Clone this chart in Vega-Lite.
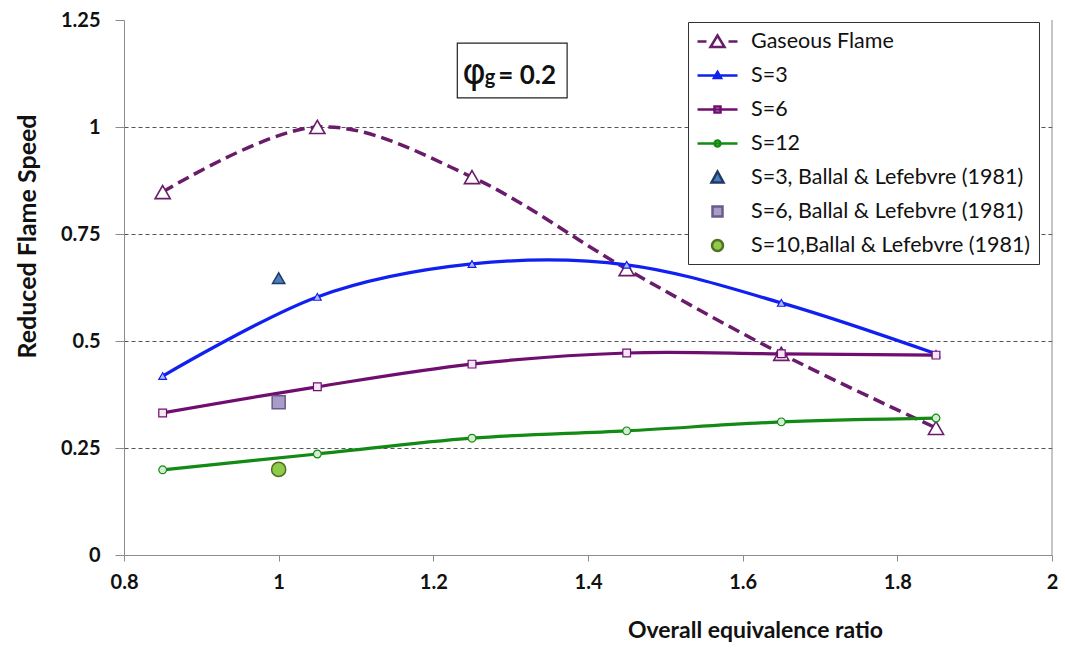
{
  "$schema": "https://vega.github.io/schema/vega-lite/v6.json",
  "width": 928,
  "height": 535,
  "autosize": "none",
  "padding": {"left": 124, "top": 20, "right": 13, "bottom": 95},
  "background": "white",
  "config": {"view": {"stroke": null}, "font": "Lato"},
  "datasets": {
    "curves": [
      {"series": "Gaseous Flame", "phi": 0.85, "speed": 0.848},
      {"series": "Gaseous Flame", "phi": 1.05, "speed": 1.0},
      {"series": "Gaseous Flame", "phi": 1.25, "speed": 0.883},
      {"series": "Gaseous Flame", "phi": 1.45, "speed": 0.668},
      {"series": "Gaseous Flame", "phi": 1.65, "speed": 0.47},
      {"series": "Gaseous Flame", "phi": 1.85, "speed": 0.297},
      {"series": "S=3", "phi": 0.85, "speed": 0.418},
      {"series": "S=3", "phi": 1.05, "speed": 0.603},
      {"series": "S=3", "phi": 1.25, "speed": 0.68},
      {"series": "S=3", "phi": 1.45, "speed": 0.678},
      {"series": "S=3", "phi": 1.65, "speed": 0.589},
      {"series": "S=3", "phi": 1.85, "speed": 0.47},
      {"series": "S=6", "phi": 0.85, "speed": 0.332},
      {"series": "S=6", "phi": 1.05, "speed": 0.393},
      {"series": "S=6", "phi": 1.25, "speed": 0.446},
      {"series": "S=6", "phi": 1.45, "speed": 0.472},
      {"series": "S=6", "phi": 1.65, "speed": 0.47},
      {"series": "S=6", "phi": 1.85, "speed": 0.467},
      {"series": "S=12", "phi": 0.85, "speed": 0.199},
      {"series": "S=12", "phi": 1.05, "speed": 0.236},
      {"series": "S=12", "phi": 1.25, "speed": 0.273},
      {"series": "S=12", "phi": 1.45, "speed": 0.29},
      {"series": "S=12", "phi": 1.65, "speed": 0.311},
      {"series": "S=12", "phi": 1.85, "speed": 0.32}
    ],
    "ballal": [
      {"series": "S=3, Ballal & Lefebvre (1981)", "phi": 1.0, "speed": 0.647},
      {"series": "S=6, Ballal & Lefebvre (1981)", "phi": 1.0, "speed": 0.357},
      {"series": "S=10,Ballal & Lefebvre (1981)", "phi": 1.0, "speed": 0.2}
    ],
    "legendrows": [
      {"entry": "Gaseous Flame"},
      {"entry": "S=3"},
      {"entry": "S=6"},
      {"entry": "S=12"},
      {"entry": "S=3, Ballal & Lefebvre (1981)"},
      {"entry": "S=6, Ballal & Lefebvre (1981)"},
      {"entry": "S=10,Ballal & Lefebvre (1981)"}
    ],
    "one": [{"k": 1}]
  },
  "layer": [
    {
      "data": {"name": "curves"},
      "transform": [{"filter": "datum.series == 'Gaseous Flame'"}],
      "mark": {"type": "line", "interpolate": "cardinal", "strokeWidth": 3.5, "strokeDash": [12, 6]},
      "encoding": {
        "x": {
          "field": "phi", "type": "quantitative",
          "scale": {"domain": [0.8, 2], "nice": false, "zero": false},
          "axis": {
            "title": "Overall equivalence ratio",
            "values": [0.8, 1, 1.2, 1.4, 1.6, 1.8, 2],
            "format": ".3~g", "grid": false,
            "domainColor": "#8C8C8C", "tickColor": "#8C8C8C", "tickSize": 6,
            "labelFont": "Lato", "labelFontSize": 20, "labelFontWeight": "bold", "labelColor": "#111",
            "labelPadding": 11, "labelFlush": false,
            "titleFont": "Lato", "titleFontSize": 23, "titleFontWeight": "bold", "titleColor": "#111",
            "titleX": 631, "titleY": 75, "titleBaseline": "middle"
          }
        },
        "y": {
          "field": "speed", "type": "quantitative",
          "scale": {"domain": [0, 1.25], "nice": false, "zero": true},
          "axis": {
            "title": "Reduced Flame Speed",
            "values": [0, 0.25, 0.5, 0.75, 1, 1.25],
            "format": ".3~g",
            "grid": true, "gridColor": "#555", "gridDash": [4, 3], "gridWidth": 1,
            "gridOpacity": {"condition": {"test": "datum.value == 0 || datum.value == 1.25", "value": 0}, "value": 1},
            "domainColor": "#8C8C8C", "tickColor": "#8C8C8C", "tickSize": 9,
            "labelFont": "Lato", "labelFontSize": 20, "labelFontWeight": "bold", "labelColor": "#111",
            "labelPadding": 15,
            "titleFont": "Lato", "titleFontSize": 25, "titleFontWeight": "bold", "titleColor": "#111",
            "titleX": -97, "titleY": 216, "titleBaseline": "middle", "titleAngle": -90
          }
        },
        "color": {
          "field": "series", "type": "nominal",
          "scale": {
            "domain": ["S=3", "S=6", "S=12", "Gaseous Flame", "S=3, Ballal & Lefebvre (1981)", "S=6, Ballal & Lefebvre (1981)", "S=10,Ballal & Lefebvre (1981)"],
            "range": ["#1020F0", "#700E70", "#138A13", "#6A1B6A", "#4A7EBB", "#A99CC9", "#8FCB4B"]
          },
          "legend": null
        }
      }
    },
    {
      "data": {"name": "curves"},
      "transform": [{"filter": "datum.series != 'Gaseous Flame'"}],
      "mark": {"type": "line", "interpolate": "cardinal", "strokeWidth": 3.2},
      "encoding": {
        "x": {"field": "phi", "type": "quantitative"},
        "y": {"field": "speed", "type": "quantitative"},
        "color": {"field": "series", "type": "nominal", "legend": null}
      }
    },
    {
      "data": {"name": "curves"},
      "transform": [{"filter": "datum.series == 'Gaseous Flame'"}],
      "mark": {"type": "point", "shape": "triangle-up", "filled": false, "fill": "white", "size": 230, "strokeWidth": 1.6, "opacity": 1},
      "encoding": {
        "x": {"field": "phi", "type": "quantitative"},
        "y": {"field": "speed", "type": "quantitative"},
        "color": {"field": "series", "type": "nominal", "legend": null}
      }
    },
    {
      "data": {"name": "curves"},
      "transform": [{"filter": "datum.series == 'S=3'"}],
      "mark": {"type": "point", "shape": "triangle-up", "filled": false, "fill": "#B8B8FF", "size": 60, "strokeWidth": 1.2, "opacity": 1},
      "encoding": {
        "x": {"field": "phi", "type": "quantitative"},
        "y": {"field": "speed", "type": "quantitative"},
        "color": {"field": "series", "type": "nominal", "legend": null}
      }
    },
    {
      "data": {"name": "curves"},
      "transform": [{"filter": "datum.series == 'S=6'"}],
      "mark": {"type": "point", "shape": "square", "filled": false, "fill": "#F4E6F4", "size": 60, "strokeWidth": 1.2, "opacity": 1},
      "encoding": {
        "x": {"field": "phi", "type": "quantitative"},
        "y": {"field": "speed", "type": "quantitative"},
        "color": {"field": "series", "type": "nominal", "legend": null}
      }
    },
    {
      "data": {"name": "curves"},
      "transform": [{"filter": "datum.series == 'S=12'"}],
      "mark": {"type": "point", "shape": "circle", "filled": false, "fill": "#D4EED4", "size": 60, "strokeWidth": 1.2, "opacity": 1},
      "encoding": {
        "x": {"field": "phi", "type": "quantitative"},
        "y": {"field": "speed", "type": "quantitative"},
        "color": {"field": "series", "type": "nominal", "legend": null}
      }
    },
    {
      "data": {"name": "ballal"},
      "transform": [{"filter": "indexof(datum.series, 'S=3') == 0"}],
      "mark": {"type": "point", "shape": "triangle-up", "filled": true, "stroke": "#1F3A66", "strokeWidth": 1.5, "size": 150, "opacity": 1},
      "encoding": {
        "x": {"field": "phi", "type": "quantitative"},
        "y": {"field": "speed", "type": "quantitative"},
        "color": {"field": "series", "type": "nominal", "legend": null}
      }
    },
    {
      "data": {"name": "ballal"},
      "transform": [{"filter": "indexof(datum.series, 'S=6') == 0"}],
      "mark": {"type": "point", "shape": "square", "filled": true, "stroke": "#6B5B8B", "strokeWidth": 1.5, "size": 170, "opacity": 1},
      "encoding": {
        "x": {"field": "phi", "type": "quantitative"},
        "y": {"field": "speed", "type": "quantitative"},
        "color": {"field": "series", "type": "nominal", "legend": null}
      }
    },
    {
      "data": {"name": "ballal"},
      "transform": [{"filter": "indexof(datum.series, 'S=10') == 0"}],
      "mark": {"type": "point", "shape": "circle", "filled": true, "stroke": "#4F7020", "strokeWidth": 1.5, "size": 200, "opacity": 1},
      "encoding": {
        "x": {"field": "phi", "type": "quantitative"},
        "y": {"field": "speed", "type": "quantitative"},
        "color": {"field": "series", "type": "nominal", "legend": null}
      }
    },
    {
      "data": {"name": "one"},
      "mark": {"type": "rule", "color": "#8C8C8C", "strokeWidth": 1},
      "encoding": {
        "x": {"datum": 2, "type": "quantitative"},
        "y": {"datum": 0, "type": "quantitative"},
        "y2": {"datum": 1.25}
      }
    },
    {
      "data": {"name": "one"},
      "mark": {"type": "rect", "fill": "white", "stroke": "#222", "strokeWidth": 1.2},
      "encoding": {
        "x": {"datum": 1.231, "type": "quantitative"},
        "x2": {"datum": 1.373},
        "y": {"datum": 1.196, "type": "quantitative"},
        "y2": {"datum": 1.068}
      }
    },
    {
      "data": {"name": "one"},
      "mark": {"type": "text", "text": "φ", "font": "DejaVu Sans", "fontSize": 36, "align": "center", "baseline": "alphabetic", "color": "#111"},
      "encoding": {
        "x": {"datum": 1.2526, "type": "quantitative"},
        "y": {"datum": 1.1, "type": "quantitative"}
      }
    },
    {
      "data": {"name": "one"},
      "mark": {"type": "text", "text": "g", "font": "Lato", "fontSize": 20, "fontWeight": "bold", "align": "left", "baseline": "alphabetic", "color": "#111"},
      "encoding": {
        "x": {"datum": 1.2665, "type": "quantitative"},
        "y": {"datum": 1.1, "type": "quantitative"}
      }
    },
    {
      "data": {"name": "one"},
      "mark": {"type": "text", "text": "= 0.2", "font": "Lato", "fontSize": 26, "fontWeight": "bold", "align": "left", "baseline": "alphabetic", "color": "#111"},
      "encoding": {
        "x": {"datum": 1.284, "type": "quantitative"},
        "y": {"datum": 1.1, "type": "quantitative"}
      }
    },
    {
      "data": {"name": "legendrows"},
      "mark": {"type": "point", "filled": true, "opacity": 0},
      "encoding": {
        "shape": {
          "field": "entry", "type": "nominal",
          "scale": {
            "domain": ["Gaseous Flame", "S=3", "S=6", "S=12", "S=3, Ballal & Lefebvre (1981)", "S=6, Ballal & Lefebvre (1981)", "S=10,Ballal & Lefebvre (1981)"],
            "range": ["M-2,0H-1.1M1.1,0H2M0,-0.6L0.7,0.55H-0.7Z", "M-2,0H2M0,-0.35L0.35,0.25H-0.35Z", "M-2,0H2M-0.3,-0.3H0.3V0.3H-0.3Z", "M-2,0H2M0.3,0A0.3,0.3,0,1,1,-0.3,0A0.3,0.3,0,1,1,0.3,0Z", "M0,-0.6L0.6,0.5H-0.6Z", "M-0.5,-0.5H0.5V0.5H-0.5Z", "M0.55,0A0.55,0.55,0,1,1,-0.55,0A0.55,0.55,0,1,1,0.55,0Z"]
          },
          "legend": {
            "title": null,
            "orient": "none", "legendX": 564, "legendY": 2,
            "fillColor": "white", "strokeColor": "#333",
            "padding": 8,
            "symbolSize": 400, "rowPadding": 12,
            "symbolOpacity": 1, "symbolStrokeWidth": 2.5,
            "symbolOffset": 10, "labelOffset": 22,
            "labelFont": "Lato", "labelFontSize": 21.5, "labelColor": "#111", "labelLimit": 400
          }
        },
        "fill": {
          "field": "entry", "type": "nominal",
          "scale": {
            "domain": ["Gaseous Flame", "S=3", "S=6", "S=12", "S=3, Ballal & Lefebvre (1981)", "S=6, Ballal & Lefebvre (1981)", "S=10,Ballal & Lefebvre (1981)"],
            "range": ["white", "#B8B8FF", "#F4E6F4", "#D4EED4", "#4A7EBB", "#A99CC9", "#8FCB4B"]
          }
        },
        "stroke": {
          "field": "entry", "type": "nominal",
          "scale": {
            "domain": ["Gaseous Flame", "S=3", "S=6", "S=12", "S=3, Ballal & Lefebvre (1981)", "S=6, Ballal & Lefebvre (1981)", "S=10,Ballal & Lefebvre (1981)"],
            "range": ["#6A1B6A", "#1020F0", "#700E70", "#138A13", "#1F3A66", "#6B5B8B", "#4F7020"]
          }
        }
      }
    }
  ]
}
